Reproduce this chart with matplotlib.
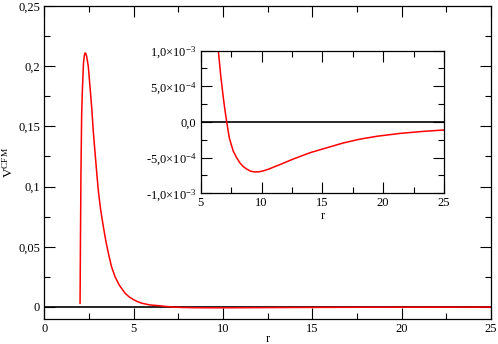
import numpy as np
import matplotlib
matplotlib.use("Agg")
import matplotlib.pyplot as plt
from matplotlib.ticker import FixedLocator, FixedFormatter, MultipleLocator

plt.rcParams['font.family'] = ['Liberation Serif', 'DejaVu Serif']
plt.rcParams['mathtext.fontset'] = 'custom'
plt.rcParams['mathtext.rm'] = 'Liberation Serif'
plt.rcParams['mathtext.it'] = 'Liberation Serif:italic'

# potential (main curve + inset region)
r = [2.0, 2.02, 2.05, 2.09, 2.13, 2.19, 2.24, 2.28, 2.32, 2.37, 2.46, 2.55,
     2.65, 2.74, 2.84, 2.93, 3.02, 3.15, 3.3, 3.44, 3.58, 3.75, 3.96, 4.2,
     4.52, 4.75, 5.0, 5.2, 5.45, 5.9, 6.2, 6.45, 6.55, 6.64, 6.75, 6.86,
     7.0, 7.14, 7.25, 7.35, 7.5, 7.68, 7.95, 8.23, 8.5, 8.78, 9.1, 9.46,
     9.8, 10.15, 10.6, 11.25, 11.9, 12.6, 13.3, 14.0, 15.4, 16.7, 18.1,
     19.5, 21.4, 23.2, 25.0]
V = [0.003, 0.05, 0.111, 0.16, 0.18, 0.202, 0.209, 0.211, 0.2105, 0.208,
     0.2, 0.184, 0.166, 0.146, 0.128, 0.112, 0.097, 0.081, 0.067, 0.055,
     0.045, 0.034, 0.025, 0.018, 0.0114, 0.0083, 0.006, 0.0045, 0.0031,
     0.0017, 0.0013, 1.0e-3, 8.2e-4, 6.6e-4, 5.0e-4, 3.4e-4, 1.6e-4, 0.0,
     -1.2e-4, -2.2e-4, -3.1e-4, -4.1e-4, -5.0e-4, -5.75e-4, -6.25e-4,
     -6.6e-4, -6.9e-4, -7.0e-4, -6.98e-4, -6.85e-4, -6.6e-4, -6.15e-4,
     -5.7e-4, -5.2e-4, -4.75e-4, -4.3e-4, -3.6e-4, -2.95e-4, -2.4e-4,
     -2.0e-4, -1.6e-4, -1.33e-4, -1.12e-4]

main_yticks = [0, 0.05, 0.1, 0.15, 0.2, 0.25]
main_ylabels = ['0', '0,05', '0,1', '0,15', '0,2', '0,25']
main_xticks = [0, 5, 10, 15, 20, 25]

inset_yticks = [-1e-3, -5e-4, 0, 5e-4, 1e-3]
inset_ylabels = [r'-1,0$\times$10$^{-3}$', r'-5,0$\times$10$^{-4}$', '0,0',
                 r'5,0$\times$10$^{-4}$', r'1,0$\times$10$^{-3}$']
inset_xticks = [5, 10, 15, 20, 25]

fig = plt.figure(figsize=(4.98, 3.44), dpi=100)
ax = fig.add_axes([0.089, 0.0727, 0.897, 0.91])
ins = fig.add_axes([0.403, 0.438, 0.4886, 0.4148])

def style(a):
    a.tick_params(which='both', direction='in', top=True, right=True,
                  labelsize=9, width=0.8, pad=3)
    a.tick_params(which='major', length=8)
    a.tick_params(which='minor', length=4)
    for s in a.spines.values():
        s.set_linewidth(0.9)

ax.axhline(0, color='black', lw=1.2, zorder=1)
ax.plot(r, V, color='red', lw=1.1, zorder=2)
ax.set_xlim(0, 25)
ax.set_ylim(-0.01, 0.25)
ax.xaxis.set_major_locator(FixedLocator(main_xticks))
ax.xaxis.set_minor_locator(MultipleLocator(2.5))
ax.yaxis.set_major_locator(FixedLocator(main_yticks))
ax.yaxis.set_major_formatter(FixedFormatter(main_ylabels))
ax.yaxis.set_minor_locator(MultipleLocator(0.025))
ax.set_xlabel('r', fontsize=9)
ax.xaxis.set_label_coords(0.5, -0.045)
ax.set_ylabel(r'V$^{\mathrm{CFM}}$', fontsize=9.5)
ax.yaxis.set_label_coords(-0.065, 0.5)
style(ax)

ins.axhline(0, color='black', lw=1.2, zorder=1)
ins.plot(r, V, color='red', lw=1.1, zorder=2)
ins.set_xlim(5, 25)
ins.set_ylim(-1e-3, 1e-3)
ins.xaxis.set_major_locator(FixedLocator(inset_xticks))
ins.xaxis.set_minor_locator(MultipleLocator(2.5))
ins.yaxis.set_major_locator(FixedLocator(inset_yticks))
ins.yaxis.set_major_formatter(FixedFormatter(inset_ylabels))
ins.yaxis.set_minor_locator(MultipleLocator(2.5e-4))
ins.set_xlabel('r', fontsize=9)
ins.xaxis.set_label_coords(0.5, -0.115)
style(ins)

fig.savefig('out.png', dpi=100)
